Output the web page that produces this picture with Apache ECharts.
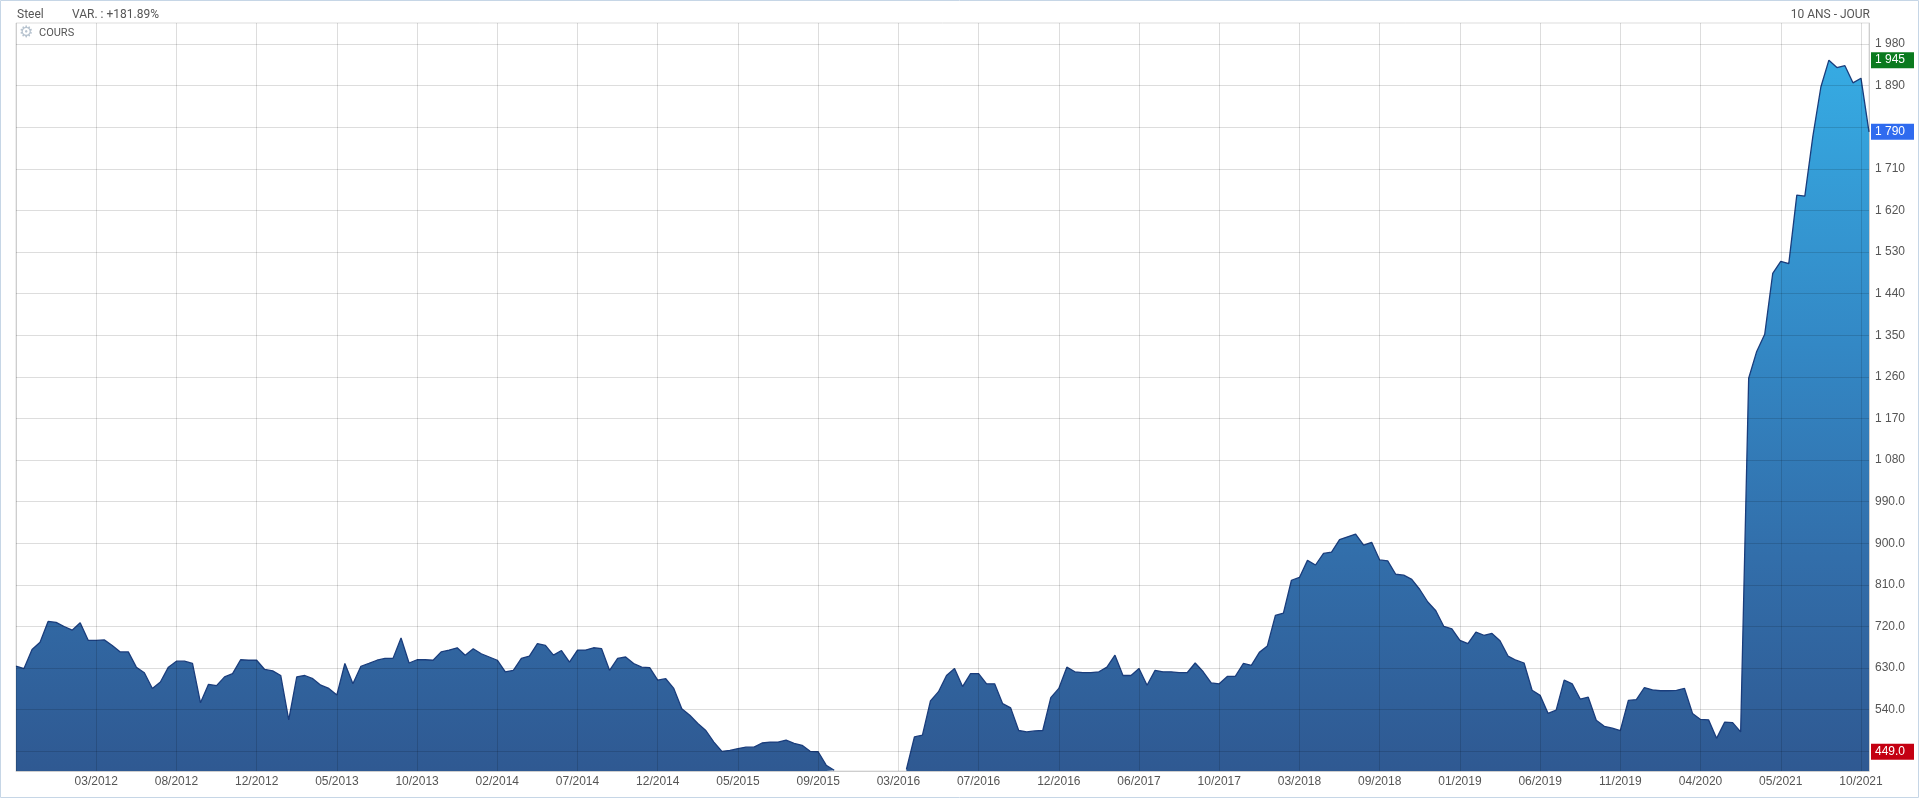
<!DOCTYPE html>
<html>
<head>
<meta charset="utf-8">
<script src="https://cdn.jsdelivr.net/npm/echarts@6/dist/echarts.min.js"></script>
<style>
  html, body { margin: 0; padding: 0; background: #fff; }
  #chart { width: 1920px; height: 799px; }
</style>
</head>
<body>
<div id="chart"></div>
<script>
// ---- data ----
const tickLabels = ['03/2012','08/2012','12/2012','05/2013','10/2013','02/2014','07/2014','12/2014',
  '05/2015','09/2015','03/2016','07/2016','12/2016','06/2017','10/2017','03/2018','09/2018',
  '01/2019','06/2019','11/2019','04/2020','05/2021','10/2021'];

const prices = [
  634,629,670,686,731,729,720,712,728,690,
  690,691,679,665,665,632,620,586,600,632,
  645,645,640,555,595,592,611,618,648,647,
  647,627,624,614,518,611,614,607,593,586,
  572,640,596,634,640,647,651,651,695,641,
  648,648,647,665,669,674,658,672,661,654,
  647,622,625,651,656,683,679,658,668,643,
  669,669,674,672,625,651,654,640,632,631,
  604,607,586,542,528,510,495,470,450,452,
  456,459,459,468,470,470,474,467,463,450,
  449,420,409,null,null,null,null,null,null,null,
  null,411,481,485,559,579,614,629,590,618,
  618,596,596,553,544,495,492,494,495,566,
  586,632,622,620,620,622,632,658,614,614,
  629,593,625,622,622,620,620,641,622,598,
  596,612,612,640,636,664,678,744,749,820,
  826,863,853,878,881,908,914,920,896,902,
  864,862,833,831,822,800,773,754,720,715,
  690,683,708,701,705,689,656,647,641,582,
  571,532,539,604,596,563,567,517,504,500,
  495,560,562,588,583,581,581,582,586,532,
  519,518,478,513,512,492,1257,1315,1352,1484,
  1510,1505,1653,1651,1780,1887,1945,1929,1933,1896,
  1906,1790
];

const yTicks = [450,540,630,720,810,900,990,1080,1170,1260,1350,1440,1530,1620,1710,1800,1890,1980];
const yLabelTicks = [540,630,720,810,900,990,1080,1170,1260,1350,1440,1530,1620,1710,1890,1980];
const yMin = 407.4, yMax = 2025.4;
const maxMark = 1945, lastMark = 1790, minMark = 449;
const title = 'Steel', variation = 'VAR. : +181.89%', period = '10 ANS - JOUR', seriesName = 'COURS';

// ---- build ----
const STEP = 10;
const categories = prices.map((v, i) => (i > 0 && i % STEP === 0) ? tickLabels[i / STEP - 1] : '');

function fmt(v) {
  if (v >= 1000) return Math.floor(v / 1000) + ' ' + String(Math.round(v % 1000)).padStart(3, '0');
  return v.toFixed(1);
}
const gridCol = 'rgba(0,0,0,0.135)';
const font = "'Liberation Sans', Arial, sans-serif";

const chart = echarts.init(document.getElementById('chart'), null, { renderer: 'canvas' });
chart.setOption({
  animation: false,
  backgroundColor: '#fff',
  grid: { left: 16, right: 51, top: 23, bottom: 28, show: true, borderColor: '#dddddd', borderWidth: 1 },
  xAxis: {
    type: 'category', data: categories, boundaryGap: false, z: 10,
    axisLine: { show: true, lineStyle: { color: gridCol, width: 1 } },
    axisTick: { show: false },
    axisLabel: { interval: (i) => i > 0 && i % STEP === 0, color: '#555', fontSize: 12, fontFamily: font, margin: 5 },
    splitLine: { show: true, interval: (i) => i % STEP === 0, lineStyle: { color: gridCol, width: 1 } }
  },
  yAxis: {
    type: 'value', position: 'right', min: yMin, max: yMax, z: 10, scale: true,
    axisLine: { show: true, lineStyle: { color: gridCol } },
    axisTick: { show: false, customValues: yTicks },
    axisLabel: { customValues: yLabelTicks, formatter: fmt, color: '#555', fontSize: 12, fontFamily: font, margin: 6 },
    splitLine: { show: true, lineStyle: { color: gridCol, width: 1 } }
  },
  series: [{
    name: seriesName, type: 'line', data: prices, symbol: 'none', clip: true, connectNulls: false,
    lineStyle: { color: '#1a3d7c', width: 1.3 },
    areaStyle: {
      opacity: 1,
      color: new echarts.graphic.LinearGradient(0, 0, 0, 1, [
        { offset: 0, color: '#36abe3' },
        { offset: 0.4, color: '#3388c5' },
        { offset: 0.7, color: '#326eaa' },
        { offset: 1, color: '#2f5992' }
      ])
    },
    markLine: {
      silent: true, symbol: ['none', 'none'], animation: false, z: 20,
      lineStyle: { color: 'rgba(0,0,0,0)', width: 1, type: 'solid' },
      label: { show: true, position: 'end', distance: 2, color: '#fff', fontSize: 12, fontFamily: font,
        padding: [2, 4, 2, 4], width: 35, formatter: (p) => fmt(p.value) },
      data: [
        { yAxis: maxMark, label: { backgroundColor: '#0a7a1e' } },
        { yAxis: lastMark, label: { backgroundColor: '#2f6bef' } },
        { yAxis: minMark, label: { backgroundColor: '#c40012' } }
      ]
    }
  }],
  graphic: [
    { type: 'rect', shape: { x: 0.5, y: 0.5, width: 1918, height: 797 }, style: { fill: 'none', stroke: '#c6d6e6', lineWidth: 1 }, z: 0, silent: true },
    { type: 'text', left: 17, top: 9, style: { text: title, fill: '#555', font: "12px Roboto, sans-serif" }, z: 20 },
    { type: 'text', left: 72, top: 9, style: { text: variation, fill: '#555', font: "12px Roboto, sans-serif" }, z: 20 },
    { type: 'text', right: 50, top: 9, style: { text: period, fill: '#555', font: "12px Roboto, sans-serif" }, z: 20 },
    { type: 'text', left: 19, top: 25, style: { text: '\u2699', fill: '#b7c3cf', font: "16px 'DejaVu Sans', sans-serif" }, z: 20 },
    { type: 'text', left: 39, top: 28, style: { text: seriesName, fill: '#555', font: "11px Roboto, sans-serif" }, z: 20 }
  ]
});
</script>
</body>
</html>
